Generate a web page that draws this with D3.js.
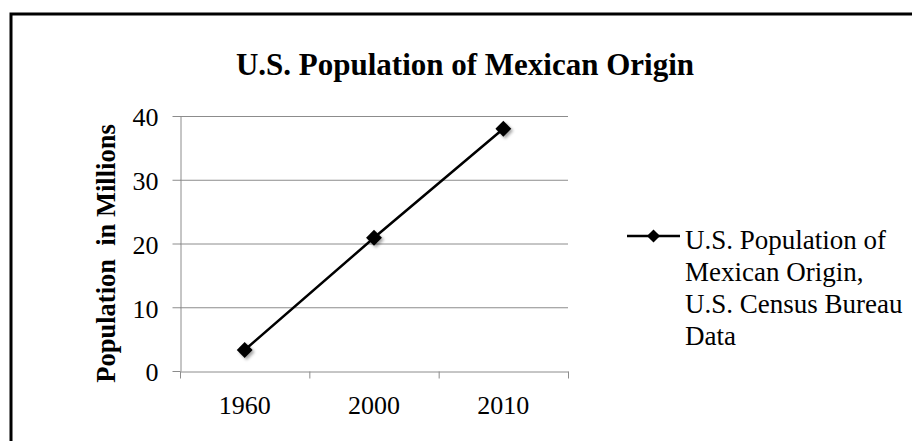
<!DOCTYPE html>
<html>
<head>
<meta charset="utf-8">
<script src="https://cdn.jsdelivr.net/npm/d3@7"></script>
<style>
body { margin: 0; background: #fff; }
svg { display: block; }
text { font-family: "Liberation Serif", "Times New Roman", serif; fill: #000; }
</style>
</head>
<body>
<div id="chart"></div>
<script>
// data
var years = ["1960", "2000", "2010"];
var population = [3.3, 20.9, 38.0]; // millions
var yTicks = [0, 10, 20, 30, 40];
var chartTitle = "U.S. Population of Mexican Origin";
var yTitle = "Population  in Millions";
var legendLines = ["U.S. Population of", "Mexican Origin,", "U.S. Census Bureau", "Data"];

var W = 912, H = 441;
var plot = { left: 180, right: 568, top: 116, bottom: 371 };
var gridColor = "#8c8c8c";

var svg = d3.select("#chart").append("svg").attr("width", W).attr("height", H);

// shadow under the markers
var defs = svg.append("defs");
defs.append("filter").attr("id", "shadow")
	.attr("x", "-50%").attr("y", "-50%").attr("width", "200%").attr("height", "200%")
	.append("feDropShadow")
	.attr("dx", 2).attr("dy", 2).attr("stdDeviation", 1.5)
	.attr("flood-color", "#000").attr("flood-opacity", 0.35);

// chart frame (right and bottom edges are cut off in the picture)
svg.append("rect")
	.attr("x", 11).attr("y", 14)
	.attr("width", W + 20).attr("height", H + 20)
	.attr("fill", "#fff").attr("stroke", "#000").attr("stroke-width", 3);

var x = d3.scaleBand().domain(years).range([plot.left, plot.right]);
var y = d3.scaleLinear().domain([0, 40]).range([plot.bottom, plot.top]);

// title
svg.append("text")
	.attr("x", 465).attr("y", 75)
	.attr("text-anchor", "middle")
	.attr("font-size", 31).attr("font-weight", "bold")
	.text(chartTitle);

// gridlines
svg.append("g").selectAll("line")
	.data(yTicks.filter(function(d) { return d > 0; }))
	.enter().append("line")
	.attr("x1", plot.left).attr("x2", plot.right)
	.attr("y1", function(d) { return y(d) + 0.5; })
	.attr("y2", function(d) { return y(d) + 0.5; })
	.attr("stroke", gridColor).attr("stroke-width", 1);

// y axis
var yAxis = svg.append("g")
	.attr("transform", "translate(" + (plot.left + 0.5) + ",0)")
	.call(d3.axisLeft(y).tickValues(yTicks).tickSize(8).tickPadding(14).tickSizeOuter(0));
yAxis.select(".domain").attr("stroke", gridColor);
yAxis.selectAll(".tick line").attr("stroke", gridColor);
yAxis.selectAll(".tick text")
	.attr("font-family", "'Liberation Serif', 'Times New Roman', serif")
	.attr("font-size", 26).attr("fill", "#000").attr("dy", "0.38em");

// x axis: labels in the bands, tick marks between them
var xAxis = svg.append("g")
	.attr("transform", "translate(0," + (plot.bottom + 0.5) + ")")
	.call(d3.axisBottom(x).tickSize(0).tickPadding(24).tickSizeOuter(0));
xAxis.select(".domain").attr("stroke", gridColor);
xAxis.selectAll(".tick text")
	.attr("font-family", "'Liberation Serif', 'Times New Roman', serif")
	.attr("font-size", 26).attr("fill", "#000");

var bounds = years.map(function(d) { return x(d); }).concat([x.range()[1]]);
xAxis.selectAll("line.sep")
	.data(bounds)
	.enter().append("line")
	.attr("class", "sep")
	.attr("x1", function(d) { return d + 0.5; })
	.attr("x2", function(d) { return d + 0.5; })
	.attr("y1", 0).attr("y2", 7)
	.attr("stroke", gridColor);

// y axis title
svg.append("text")
	.attr("transform", "translate(115," + ((plot.top + plot.bottom) / 2 + 10) + ") rotate(-90)")
	.attr("text-anchor", "middle")
	.attr("font-size", 26.5).attr("font-weight", "bold")
	.style("white-space", "pre")
	.text(yTitle);

// series line
var pts = years.map(function(d, i) { return { year: d, value: population[i] }; });
var line = d3.line()
	.x(function(d) { return x(d.year) + x.bandwidth() / 2; })
	.y(function(d) { return y(d.value); });

svg.append("path")
	.datum(pts)
	.attr("d", line)
	.attr("fill", "none").attr("stroke", "#000").attr("stroke-width", 2.5);

var diamond = d3.symbol().type(d3.symbolDiamond2).size(160);
svg.append("g").selectAll("path")
	.data(pts)
	.enter().append("path")
	.attr("d", diamond)
	.attr("transform", function(d) {
		return "translate(" + (x(d.year) + x.bandwidth() / 2) + "," + y(d.value) + ") rotate(0)";
	})
	.attr("fill", "#000")
	.attr("filter", "url(#shadow)");

// legend
var lg = svg.append("g").attr("transform", "translate(627,236)");
lg.append("line").attr("x1", 0).attr("x2", 53).attr("y1", 0).attr("y2", 0)
	.attr("stroke", "#000").attr("stroke-width", 2.5);
lg.append("path").attr("d", d3.symbol().type(d3.symbolDiamond2).size(110))
	.attr("transform", "translate(26.5,0)").attr("fill", "#000");
lg.selectAll("text.item")
	.data(legendLines)
	.enter().append("text")
	.attr("class", "item")
	.attr("x", 58)
	.attr("y", function(d, i) { return 13 + i * 32; })
	.attr("font-size", 27)
	.text(function(d) { return d; });
</script>
</body>
</html>
